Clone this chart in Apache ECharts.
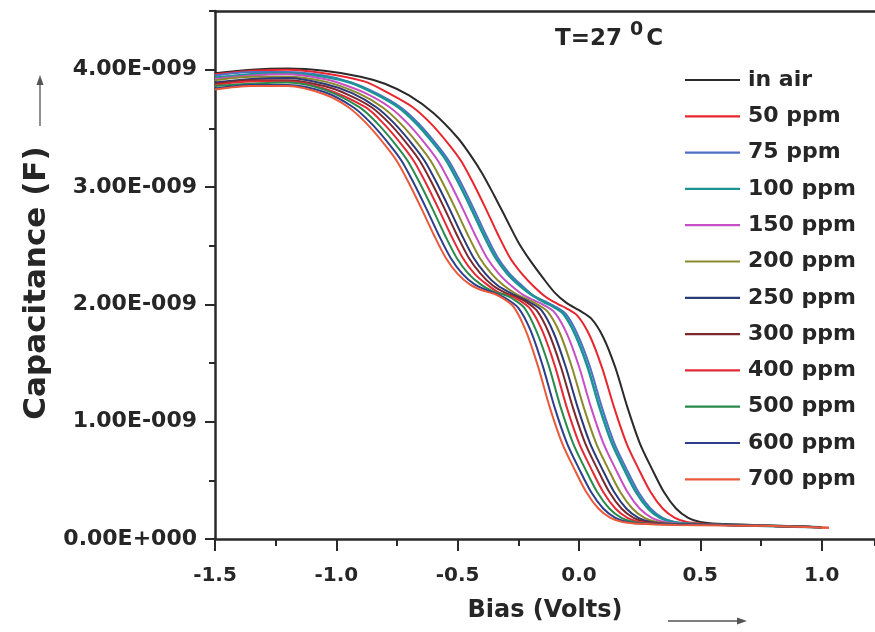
<!DOCTYPE html>
<html>
<head>
<meta charset="utf-8">
<script src="https://cdn.jsdelivr.net/npm/echarts@6/dist/echarts.min.js"></script>
<style>
html,body{margin:0;padding:0;background:#fff;}
#chart{width:875px;height:632px;}
</style>
</head>
<body>
<div id="chart"></div>
<script>
// Bias (V), Capacitance (nF = 1E-009 F) pairs
const inAir = [[-1.5,3.97],[-1.35,4.00],[-1.2,4.01],[-1.05,3.99],[-0.9,3.94],[-0.8,3.88],[-0.7,3.78],[-0.6,3.63],[-0.5,3.42],[-0.45,3.28],[-0.4,3.12],[-0.35,2.93],[-0.3,2.73],[-0.25,2.53],[-0.2,2.37],[-0.15,2.23],[-0.1,2.10],[-0.05,2.01],[0.0,1.95],[0.05,1.88],[0.10,1.72],[0.15,1.46],[0.20,1.12],[0.25,0.82],[0.30,0.60],[0.35,0.40],[0.40,0.26],[0.45,0.18],[0.50,0.145],[0.57,0.13],[0.8,0.115],[1.0,0.10]];
const ppm50 = [[-1.5,3.96],[-1.35,3.99],[-1.2,4.00],[-1.05,3.97],[-0.885,3.90],[-0.785,3.80],[-0.685,3.68],[-0.61,3.54],[-0.535,3.36],[-0.485,3.22],[-0.435,3.03],[-0.385,2.82],[-0.335,2.60],[-0.285,2.40],[-0.235,2.26],[-0.185,2.15],[-0.135,2.06],[-0.085,2.00],[-0.055,1.97],[-0.005,1.90],[0.045,1.73],[0.095,1.46],[0.145,1.12],[0.195,0.82],[0.245,0.60],[0.295,0.40],[0.345,0.26],[0.395,0.18],[0.445,0.145],[0.515,0.13],[0.6,0.12],[0.8,0.11],[1.03,0.095]];
const ppm75 = [[-1.5,3.95],[-1.35,3.98],[-1.2,3.98],[-1.05,3.95],[-0.935,3.89],[-0.835,3.80],[-0.735,3.68],[-0.66,3.54],[-0.585,3.36],[-0.535,3.22],[-0.485,3.03],[-0.435,2.82],[-0.385,2.60],[-0.335,2.40],[-0.285,2.26],[-0.235,2.16],[-0.185,2.07],[-0.135,2.02],[-0.105,1.99],[-0.055,1.92],[-0.005,1.74],[0.045,1.47],[0.095,1.12],[0.145,0.82],[0.195,0.60],[0.245,0.40],[0.295,0.26],[0.345,0.18],[0.395,0.145],[0.465,0.13],[0.6,0.12],[0.8,0.11],[1.0,0.10]];
const ppm100 = [[-1.5,3.93],[-1.35,3.96],[-1.2,3.97],[-1.05,3.94],[-0.945,3.89],[-0.845,3.80],[-0.745,3.68],[-0.67,3.54],[-0.595,3.36],[-0.545,3.22],[-0.495,3.03],[-0.445,2.82],[-0.395,2.60],[-0.345,2.40],[-0.295,2.26],[-0.245,2.16],[-0.195,2.08],[-0.145,2.02],[-0.115,1.99],[-0.065,1.92],[-0.015,1.74],[0.035,1.47],[0.085,1.12],[0.135,0.82],[0.185,0.60],[0.235,0.40],[0.285,0.26],[0.335,0.18],[0.385,0.145],[0.455,0.13],[0.6,0.12],[0.8,0.11],[1.0,0.10]];
const ppm150 = [[-1.5,3.92],[-1.35,3.95],[-1.2,3.96],[-1.05,3.92],[-0.98,3.88],[-0.88,3.80],[-0.78,3.68],[-0.705,3.54],[-0.63,3.36],[-0.58,3.22],[-0.53,3.03],[-0.48,2.82],[-0.43,2.60],[-0.38,2.40],[-0.33,2.26],[-0.28,2.16],[-0.23,2.08],[-0.18,2.03],[-0.15,2.00],[-0.10,1.93],[-0.05,1.75],[0.0,1.47],[0.05,1.12],[0.10,0.82],[0.15,0.60],[0.20,0.40],[0.25,0.26],[0.30,0.18],[0.35,0.145],[0.42,0.13],[0.6,0.12],[0.8,0.11],[1.0,0.10]];
const ppm200 = [[-1.5,3.91],[-1.35,3.94],[-1.2,3.94],[-1.05,3.90],[-0.91,3.80],[-0.81,3.68],[-0.735,3.54],[-0.66,3.36],[-0.61,3.22],[-0.56,3.03],[-0.51,2.82],[-0.46,2.60],[-0.41,2.40],[-0.36,2.26],[-0.31,2.16],[-0.26,2.09],[-0.21,2.04],[-0.18,2.01],[-0.13,1.94],[-0.08,1.76],[-0.03,1.47],[0.02,1.12],[0.07,0.82],[0.12,0.60],[0.17,0.40],[0.22,0.26],[0.27,0.18],[0.32,0.145],[0.39,0.13],[0.6,0.12],[0.8,0.11],[1.0,0.10]];
const ppm250 = [[-1.5,3.89],[-1.35,3.92],[-1.2,3.93],[-1.05,3.88],[-0.935,3.80],[-0.835,3.68],[-0.76,3.54],[-0.685,3.36],[-0.635,3.22],[-0.585,3.03],[-0.535,2.82],[-0.485,2.60],[-0.435,2.40],[-0.385,2.26],[-0.335,2.16],[-0.285,2.10],[-0.235,2.05],[-0.205,2.02],[-0.155,1.95],[-0.105,1.76],[-0.055,1.47],[-0.005,1.12],[0.045,0.82],[0.095,0.60],[0.145,0.40],[0.195,0.26],[0.245,0.18],[0.295,0.145],[0.365,0.13],[0.6,0.12],[0.8,0.11],[1.0,0.10]];
const ppm300 = [[-1.5,3.88],[-1.35,3.91],[-1.2,3.91],[-1.05,3.86],[-0.955,3.79],[-0.855,3.68],[-0.78,3.54],[-0.705,3.36],[-0.655,3.22],[-0.605,3.03],[-0.555,2.82],[-0.505,2.60],[-0.455,2.40],[-0.405,2.26],[-0.355,2.16],[-0.305,2.10],[-0.255,2.06],[-0.225,2.03],[-0.175,1.95],[-0.125,1.76],[-0.075,1.47],[-0.025,1.12],[0.025,0.82],[0.075,0.60],[0.125,0.40],[0.175,0.26],[0.225,0.18],[0.275,0.145],[0.345,0.13],[0.6,0.12],[0.8,0.11],[1.0,0.10]];
const ppm400 = [[-1.5,3.87],[-1.35,3.90],[-1.2,3.90],[-1.05,3.84],[-0.88,3.68],[-0.805,3.54],[-0.73,3.36],[-0.68,3.22],[-0.63,3.03],[-0.58,2.82],[-0.53,2.60],[-0.48,2.40],[-0.43,2.26],[-0.38,2.17],[-0.33,2.10],[-0.28,2.07],[-0.25,2.04],[-0.20,1.96],[-0.15,1.77],[-0.10,1.48],[-0.05,1.12],[0.0,0.82],[0.05,0.60],[0.10,0.40],[0.15,0.26],[0.20,0.18],[0.25,0.145],[0.32,0.13],[0.6,0.12],[0.8,0.11],[1.0,0.10]];
const ppm500 = [[-1.5,3.86],[-1.35,3.88],[-1.2,3.89],[-1.05,3.83],[-0.905,3.68],[-0.83,3.54],[-0.755,3.36],[-0.705,3.22],[-0.655,3.03],[-0.605,2.82],[-0.555,2.60],[-0.505,2.40],[-0.455,2.26],[-0.405,2.17],[-0.355,2.11],[-0.305,2.08],[-0.275,2.05],[-0.225,1.97],[-0.175,1.77],[-0.125,1.48],[-0.075,1.12],[-0.025,0.82],[0.025,0.60],[0.075,0.40],[0.125,0.26],[0.175,0.18],[0.225,0.145],[0.295,0.13],[0.6,0.12],[0.8,0.11],[1.0,0.10]];
const ppm600 = [[-1.5,3.84],[-1.35,3.87],[-1.2,3.87],[-1.05,3.81],[-0.93,3.68],[-0.855,3.54],[-0.78,3.36],[-0.73,3.22],[-0.68,3.03],[-0.63,2.82],[-0.58,2.60],[-0.53,2.40],[-0.48,2.26],[-0.43,2.17],[-0.38,2.12],[-0.33,2.08],[-0.30,2.05],[-0.25,1.97],[-0.20,1.78],[-0.15,1.48],[-0.10,1.12],[-0.05,0.82],[0.0,0.60],[0.05,0.40],[0.10,0.26],[0.15,0.18],[0.20,0.145],[0.27,0.13],[0.6,0.12],[0.8,0.11],[1.0,0.10]];
const ppm700 = [[-1.5,3.83],[-1.35,3.86],[-1.2,3.86],[-1.05,3.79],[-0.95,3.68],[-0.875,3.54],[-0.8,3.36],[-0.75,3.22],[-0.7,3.03],[-0.65,2.82],[-0.6,2.60],[-0.55,2.40],[-0.5,2.26],[-0.45,2.17],[-0.4,2.12],[-0.35,2.09],[-0.32,2.06],[-0.27,1.98],[-0.22,1.78],[-0.17,1.48],[-0.12,1.12],[-0.07,0.82],[-0.02,0.60],[0.03,0.40],[0.08,0.26],[0.13,0.18],[0.18,0.145],[0.25,0.13],[0.4,0.12],[0.6,0.115],[0.8,0.11],[1.03,0.095]];

const seriesNames = ['in air','50 ppm','75 ppm','100 ppm','150 ppm','200 ppm','250 ppm','300 ppm','400 ppm','500 ppm','600 ppm','700 ppm'];
const seriesData = [inAir, ppm50, ppm75, ppm100, ppm150, ppm200, ppm250, ppm300, ppm400, ppm500, ppm600, ppm700];
const seriesColors = ['#2a2a2a','#e8262e','#4f6fc4','#1d9494','#c64fc6','#8a8a2a','#2b3a78','#7a2a2e','#e42a36','#2a8a4a','#2c3e8c','#ea5a3a'];
const xTicks = [-1.5, -1.0, -0.5, 0.0, 0.5, 1.0];
const yTickLabels = ['0.00E+000','1.00E-009','2.00E-009','3.00E-009','4.00E-009'];

const FONT = '"DejaVu Sans", "Liberation Sans", Arial, sans-serif';
const TXT = '#262626';
const chart = echarts.init(document.getElementById('chart'), null, {renderer: 'canvas'});

const series = seriesNames.map((n, i) => ({
  name: n,
  type: 'line',
  data: seriesData[i],
  xAxisIndex: 0,
  yAxisIndex: 0,
  symbol: 'none',
  smooth: 0.3,
  lineStyle: {color: seriesColors[i], width: i === 3 ? 2.6 : 2},
  itemStyle: {color: seriesColors[i]},
  z: 2
}));

const X_MIN = -1.5, X_MAX = 1.22, Y_MIN = 0, Y_MAX = 4.5;

chart.setOption({
  animation: false,
  backgroundColor: '#ffffff',
  textStyle: {fontFamily: FONT},
  title: {
    left: 555, top: 21, padding: 0,
    text: '{a|T=27 }{s|0}{a|C}',
    textStyle: {
      rich: {
        a: {fontSize: 23, fontWeight: 'bold', color: TXT, fontFamily: FONT, lineHeight: 30, verticalAlign: 'bottom'},
        s: {fontSize: 19, fontWeight: 'bold', color: TXT, fontFamily: FONT, lineHeight: 20, verticalAlign: 'top', padding: [0, 3, 0, 0]}
      }
    }
  },
  legend: {
    orient: 'vertical',
    left: 685, top: 68, padding: 0,
    icon: 'rect',
    itemWidth: 55, itemHeight: 2.2, itemGap: 12.3,
    textStyle: {fontSize: 22, fontWeight: 'bold', color: TXT, fontFamily: FONT, lineHeight: 24, padding: [0, 0, 0, 3]},
    data: seriesNames
  },
  grid: {left: 215, right: 0, top: 11, bottom: 93, containLabel: false},
  xAxis: [
    {
      type: 'value', min: X_MIN, max: X_MAX, interval: 0.5, position: 'bottom',
      name: 'Bias (Volts)', nameLocation: 'middle', nameGap: 60,
      nameTextStyle: {fontSize: 24, fontWeight: 'bold', color: TXT, fontFamily: FONT},
      axisLine: {show: true, onZero: false, lineStyle: {color: '#2a2a2a', width: 2.5}},
      axisTick: {show: true, inside: false, length: 12, lineStyle: {color: '#2a2a2a', width: 2}},
      axisLabel: {show: true, margin: 27, fontSize: 20, fontWeight: 'bold', color: TXT, fontFamily: FONT,
        showMaxLabel: false,
        formatter: v => xTicks.some(t => Math.abs(t - v) < 1e-6) ? v.toFixed(1) : ''},
      splitLine: {show: false}
    },
    {
      type: 'value', min: X_MIN, max: X_MAX, interval: 0.25, position: 'bottom', offset: 0,
      axisLine: {show: false, onZero: false},
      axisTick: {show: true, inside: false, length: 7, lineStyle: {color: '#2a2a2a', width: 2}},
      axisLabel: {show: false},
      splitLine: {show: false}
    },
    {
      type: 'value', min: X_MIN, max: X_MAX, position: 'top',
      axisLine: {show: true, onZero: false, lineStyle: {color: '#2a2a2a', width: 2.5}},
      axisTick: {show: false}, axisLabel: {show: false}, splitLine: {show: false}
    }
  ],
  yAxis: [
    {
      type: 'value', min: Y_MIN, max: Y_MAX, interval: 1, position: 'left',
      name: 'Capacitance (F)', nameLocation: 'middle', nameGap: 162, nameRotate: 90,
      nameTextStyle: {fontSize: 31, fontWeight: 'bold', color: TXT, fontFamily: FONT, padding: [0, 16, 0, 0]},
      axisLine: {show: true, onZero: false, lineStyle: {color: '#2a2a2a', width: 2.5}},
      axisTick: {show: true, inside: false, length: 10, lineStyle: {color: '#2a2a2a', width: 2}},
      axisLabel: {show: true, margin: 18, fontSize: 22, fontWeight: 'bold', color: TXT, fontFamily: FONT,
        showMaxLabel: false,
        formatter: v => { const k = Math.round(v); return Math.abs(k - v) < 1e-6 && yTickLabels[k] ? yTickLabels[k] : ''; }},
      splitLine: {show: false}
    },
    {
      type: 'value', min: Y_MIN, max: Y_MAX, interval: 0.5, position: 'left', offset: 0,
      axisLine: {show: false, onZero: false},
      axisTick: {show: true, inside: false, length: 6, lineStyle: {color: '#2a2a2a', width: 2}},
      axisLabel: {show: false},
      splitLine: {show: false}
    }
  ],
  graphic: [
    {type: 'line', shape: {x1: 40, y1: 126, x2: 40, y2: 82}, style: {stroke: '#555', lineWidth: 1.3}, silent: true},
    {type: 'polygon', shape: {points: [[40, 75], [36.5, 85], [43.5, 85]]}, style: {fill: '#555'}, silent: true},
    {type: 'line', shape: {x1: 668, y1: 621, x2: 738, y2: 621}, style: {stroke: '#555', lineWidth: 1.3}, silent: true},
    {type: 'polygon', shape: {points: [[747, 621], [737, 617.5], [737, 624.5]]}, style: {fill: '#555'}, silent: true}
  ],
  series: series
});
</script>
</body>
</html>
